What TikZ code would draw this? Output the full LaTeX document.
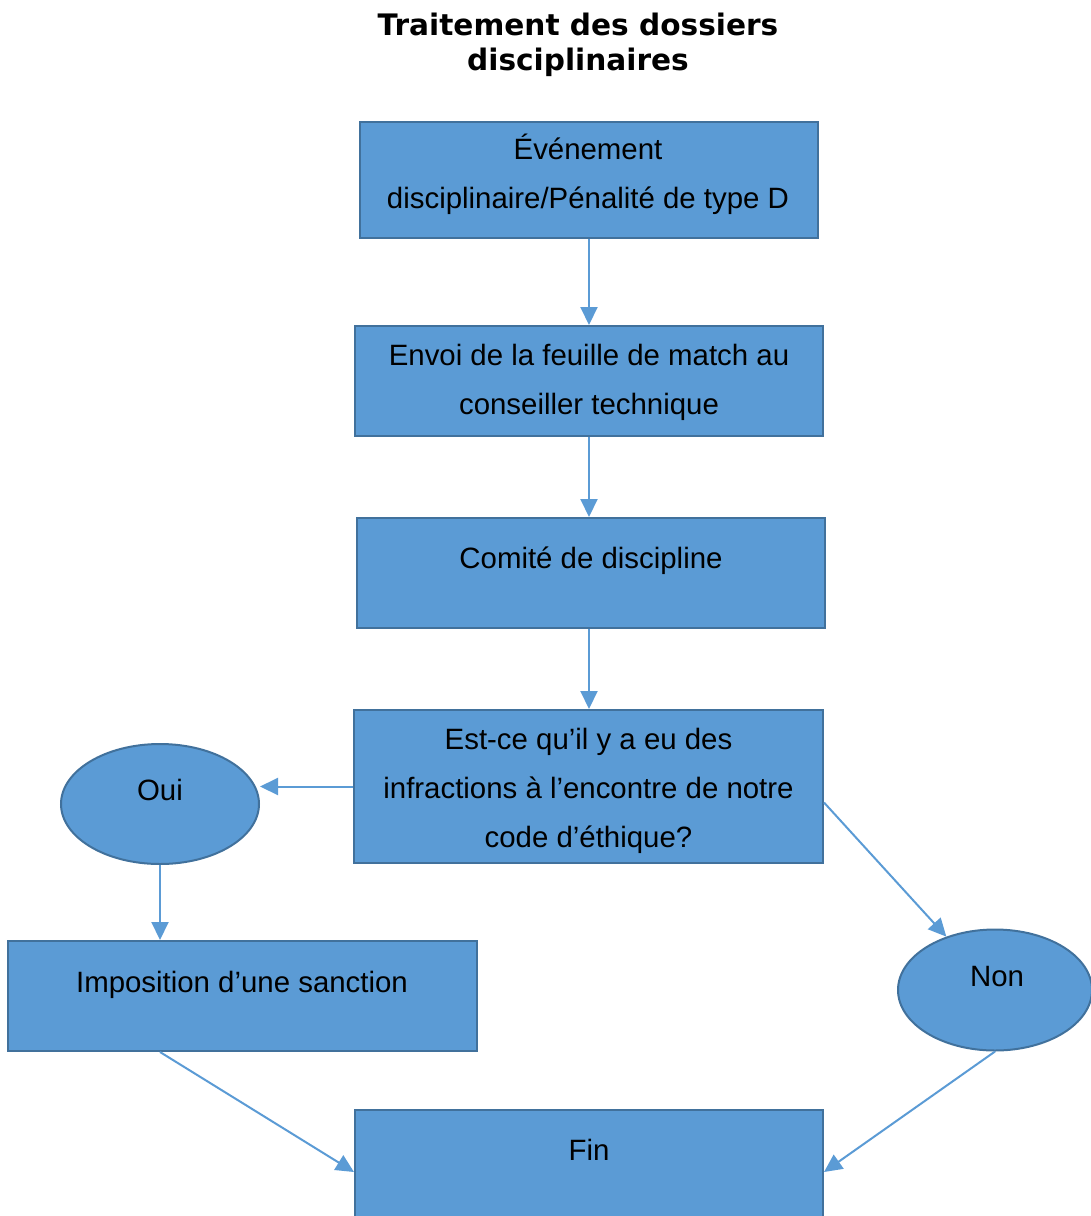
\documentclass[tikz,border=0pt]{standalone}
\usepackage{fontspec}
\setmainfont{Liberation Sans}
\newfontfamily\titlefont{DejaVu Sans}
\usetikzlibrary{arrows.meta,shapes.geometric}
\definecolor{boxfill}{HTML}{5B9BD5}
\definecolor{boxline}{HTML}{41719C}
\begin{document}
\begin{tikzpicture}[x=1pt,y=-1pt,
  box/.style={draw=boxline, fill=boxfill, line width=2pt, rectangle, inner sep=0pt},
  oval/.style={draw=boxline, fill=boxfill, line width=2pt, ellipse, inner sep=0pt},
  lbl/.style={font=\fontsize{29.4}{49}\selectfont, align=center, anchor=base, inner sep=0pt},
  ttl/.style={font=\titlefont\bfseries\fontsize{29.6}{35}\selectfont, align=center, anchor=base, inner sep=0pt},
  conn/.style={draw=boxfill, line width=2pt, -{Triangle[length=18pt,width=17pt]}}]
\useasboundingbox (0,0) rectangle (1091,1216);

% title (anchor base = last line)
\node[ttl] (title) at (578,70) {Traitement des dossiers\\disciplinaires};

% shapes
\node[box, minimum width=458pt, minimum height=116pt] (b1) at (588.5,180) {};
\node[box, minimum width=468pt, minimum height=110pt] (b2) at (589,381) {};
\node[box, minimum width=468pt, minimum height=110pt] (b3) at (591,573) {};
\node[box, minimum width=469pt, minimum height=153pt] (b4) at (588.5,786.5) {};
\node[oval, minimum width=198pt, minimum height=120pt] (oui) at (160,804) {};
\node[box, minimum width=469pt, minimum height=110pt] (imp) at (242.5,996) {};
\node[oval, minimum width=194pt, minimum height=121pt] (non) at (995,990) {};
\node[box, minimum width=468pt, minimum height=110pt] (fin) at (589,1165) {};

% texts (anchor base = baseline of last line)
\node[lbl] (t1) at (588,208) {Événement\\disciplinaire/Pénalité de type D};
\node[lbl] (t2) at (589,414) {Envoi de la feuille de match au\\conseiller technique};
\node[lbl] (t3) at (591,568) {Comité de discipline};
\node[lbl] (t4) at (588.5,847) {Est-ce qu’il y a eu des\\infractions à l’encontre de notre\\code d’éthique?};
\node[lbl] (t5) at (160,800) {Oui};
\node[lbl] (t6) at (242,992) {Imposition d’une sanction};
\node[lbl] (t7) at (997,986) {Non};
\node[lbl] (t8) at (589,1160) {Fin};

% connectors
\draw[conn] (b1.south -| b2.north) -- (b2.north);
\draw[conn] (b2.south) -- (b2.south |- b3.north);
\draw[conn] (b3.south -| b2.south) -- (b2.south |- b4.north);
\draw[conn] (b4.west) -- (b4.west -| oui.east);
\draw[conn] (oui.south) -- (oui.south |- imp.north);
\draw[conn] ([yshift=-16pt]b4.east) -- (non);
\draw[conn] (imp.south -| oui.south) -- ([yshift=-7pt]fin.west);
\draw[conn] (non.south) -- ([yshift=-7pt]fin.east);
\end{tikzpicture}
\end{document}
